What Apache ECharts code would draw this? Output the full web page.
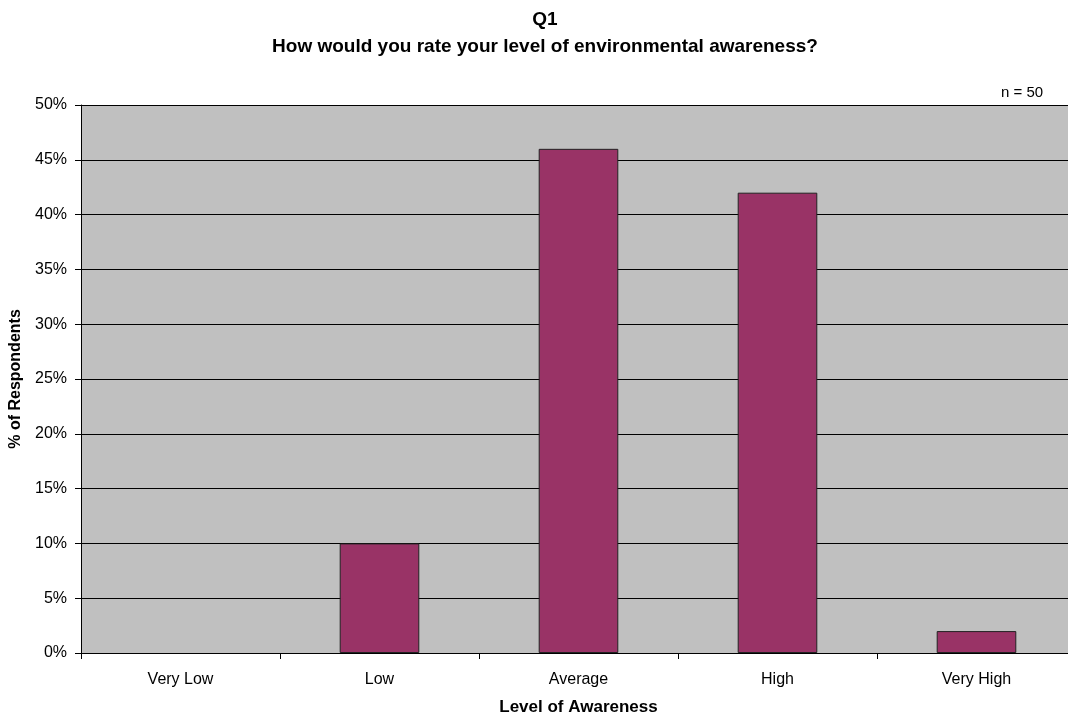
<!DOCTYPE html>
<html>
<head>
<meta charset="utf-8">
<script src="https://cdn.jsdelivr.net/npm/echarts@6/dist/echarts.min.js"></script>
<style>
  html, body { margin: 0; padding: 0; background: #fff; }
  #chart { width: 1068px; height: 715px; }
</style>
</head>
<body>
<div id="chart"></div>
<script>
// Awareness levels and share of respondents (percent)
const categories = ['Very Low', 'Low', 'Average', 'High', 'Very High'];
const respondentShare = [0, 10, 46, 42, 2];
const sampleNote = 'n = 50';

const FONT = '"Liberation Sans", Arial, sans-serif';

// Zero-height bars get no outline so they don't leave a stray line on the axis
const barData = respondentShare.map(v => ({
  value: v,
  itemStyle: v === 0 ? { borderWidth: 0 } : {}
}));

const chart = echarts.init(document.getElementById('chart'), null, { renderer: 'canvas' });

chart.setOption({
  animation: false,
  backgroundColor: '#ffffff',
  title: {
    text: 'Q1\nHow would you rate your level of environmental awareness?',
    left: 540,
    top: 1,
    textAlign: 'center',
    textStyle: {
      fontFamily: FONT,
      fontSize: 19,
      fontWeight: 'bold',
      color: '#000',
      lineHeight: 27,
      align: 'center'
    }
  },
  graphic: [{
    type: 'text',
    left: 1001,
    top: 85,
    style: { text: sampleNote, font: '15px ' + FONT, fill: '#000' }
  }],
  grid: {
    left: 81,
    width: 995,
    top: 105,
    height: 548,
    outerBoundsMode: 'none',
    containLabel: false,
    show: true,
    backgroundColor: '#c0c0c0',
    borderWidth: 0
  },
  xAxis: {
    type: 'category',
    data: categories,
    name: 'Level of Awareness',
    nameLocation: 'middle',
    nameGap: 46,
    nameTextStyle: { fontFamily: FONT, fontSize: 17, fontWeight: 'bold', color: '#000' },
    axisLine: { show: true, lineStyle: { color: '#000', width: 1 } },
    axisTick: { show: true, alignWithLabel: false, length: 6, lineStyle: { color: '#000' } },
    axisLabel: { fontFamily: FONT, fontSize: 16, color: '#000', margin: 19 },
    splitLine: { show: false }
  },
  yAxis: {
    type: 'value',
    min: 0,
    max: 50,
    interval: 5,
    name: '% of Respondents',
    nameLocation: 'middle',
    nameGap: 53,
    nameTextStyle: { fontFamily: FONT, fontSize: 16, fontWeight: 'bold', color: '#000' },
    axisLine: { show: true, lineStyle: { color: '#000', width: 1 } },
    axisTick: { show: true, inside: false, length: 6, lineStyle: { color: '#000' } },
    axisLabel: { fontFamily: FONT, fontSize: 16, color: '#000', margin: 14, formatter: '{value}%' },
    splitLine: { show: true, lineStyle: { color: '#000', width: 1 } }
  },
  series: [{
    type: 'bar',
    data: barData,
    barCategoryGap: '60%',
    itemStyle: { color: '#993366', borderColor: '#222', borderWidth: 1 }
  }]
});
</script>
</body>
</html>
